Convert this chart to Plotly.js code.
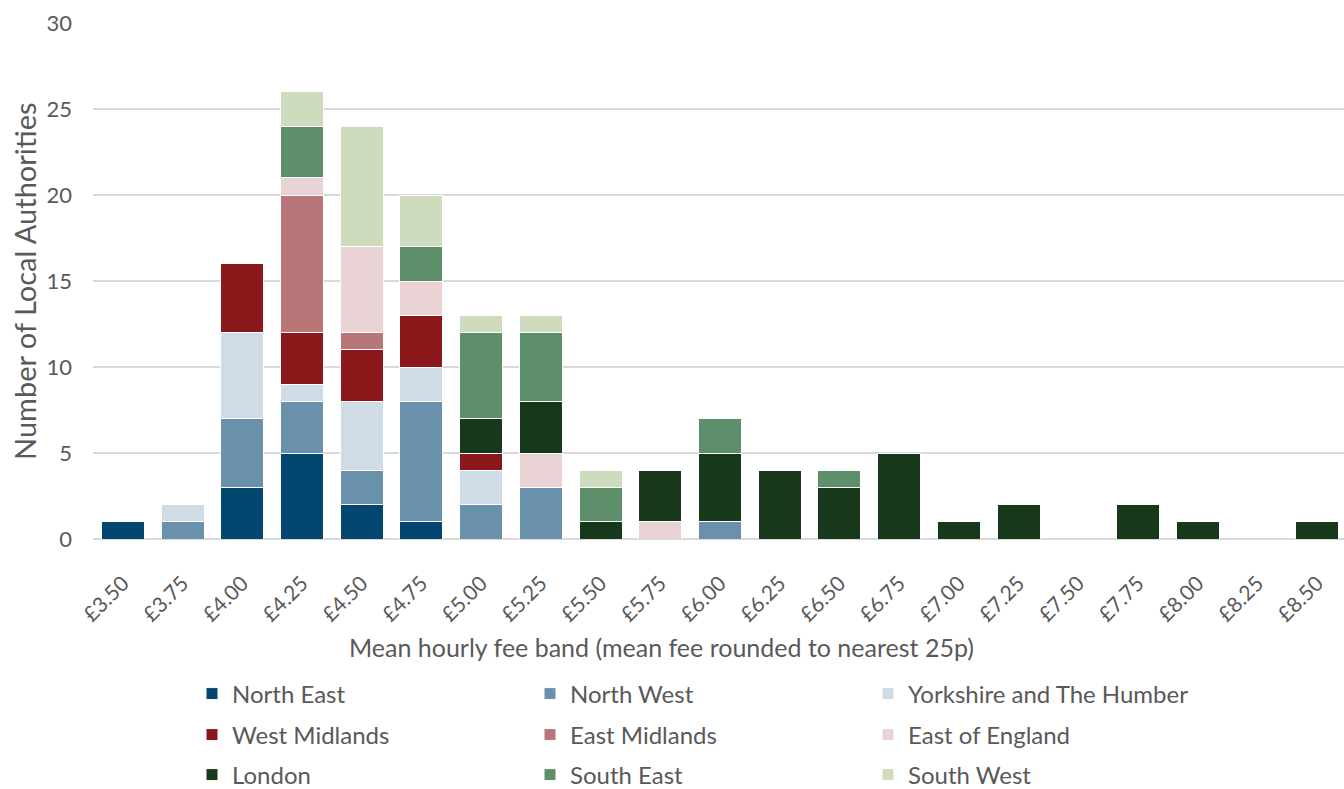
<!DOCTYPE html>
<html>
<head>
<meta charset="utf-8">
<script src="https://cdn.plot.ly/plotly-3.0.1.min.js"></script>
<style>html,body{margin:0;padding:0;background:#fff;}#chart{width:1344px;height:789px;}</style>
</head>
<body>
<div id="chart"></div>
<script>
const categories = ['£3.50','£3.75','£4.00','£4.25','£4.50','£4.75','£5.00','£5.25','£5.50','£5.75','£6.00','£6.25','£6.50','£6.75','£7.00','£7.25','£7.50','£7.75','£8.00','£8.25','£8.50'];

const northEast   = [1,0,3,5,2,1,0,0,0,0,0,0,0,0,0,0,0,0,0,0,0];
const northWest   = [0,1,4,3,2,7,2,3,0,0,1,0,0,0,0,0,0,0,0,0,0];
const yorkshire   = [0,1,5,1,4,2,2,0,0,0,0,0,0,0,0,0,0,0,0,0,0];
const westMid     = [0,0,4,3,3,3,1,0,0,0,0,0,0,0,0,0,0,0,0,0,0];
const eastMid     = [0,0,0,8,1,0,0,0,0,0,0,0,0,0,0,0,0,0,0,0,0];
const eastEngland = [0,0,0,1,5,2,0,2,0,1,0,0,0,0,0,0,0,0,0,0,0];
const london      = [0,0,0,0,0,0,2,3,1,3,4,4,3,5,1,2,0,2,1,0,1];
const southEast   = [0,0,0,3,0,2,5,4,2,0,2,0,1,0,0,0,0,0,0,0,0];
const southWest   = [0,0,0,2,7,3,1,1,1,0,0,0,0,0,0,0,0,0,0,0,0];

const seriesNames = ['North East','North West','Yorkshire and The Humber','West Midlands','East Midlands','East of England','London','South East','South West'];
const seriesData = [northEast,northWest,yorkshire,westMid,eastMid,eastEngland,london,southEast,southWest];
const seriesColors = ['#03466F','#6991AB','#CFDCE5','#8A1719','#B87679','#E9D3D4','#17381B','#5E8F6B','#CFDBBD'];
const legendRows = ['legend','legend','legend','legend2','legend2','legend2','legend3','legend3','legend3'];

const xTitle = 'Mean hourly fee band (mean fee rounded to nearest 25p)';
const yTitle = 'Number of Local Authorities';

const FONT = 'Lato, "Open Sans", sans-serif';
const TXT = '#595959';

// plot area in pixels: x 93..1344, y 23..539
const PX = x => (x - 93) / 1251;
const PY = y => (539 - y) / 516;

const traces = seriesNames.map((n,i)=>({
  type:'bar', name:n, x:categories, y:seriesData[i].map(v=>v||null),
  marker:{color:seriesColors[i], line:{color:'#ffffff', width:1}},
  legend:legendRows[i], hoverinfo:'skip'
}));

function leg(yPx){
  return {orientation:'h', xref:'container', yref:'container', x:192/1344, y:1-yPx/789,
    xanchor:'left', yanchor:'middle', entrywidth:293, entrywidthmode:'pixels', maxheight:200,
    font:{family:FONT,size:24,color:TXT}, bgcolor:'rgba(0,0,0,0)', traceorder:'normal'};
}

const layout = {
  width:1344, height:789, paper_bgcolor:'#fff', plot_bgcolor:'#fff',
  margin:{l:93,r:0,t:23,b:250},
  barmode:'stack', bargap:0.28,
  font:{family:FONT,color:TXT},
  xaxis:{type:'category', range:[-0.5,20.45], tickangle:-45, tickfont:{family:FONT,size:21,color:TXT},
    showgrid:false, showline:false, ticks:'', fixedrange:true, ticklabelstandoff:27},
  yaxis:{range:[0,30], dtick:5, tickfont:{family:FONT,size:22,color:TXT}, gridcolor:'#d9d9d9', gridwidth:1.3,
    zeroline:true, zerolinecolor:'#d9d9d9', zerolinewidth:1.5, ticks:'', ticklabelstandoff:20},
  annotations:[
    {text:xTitle, xref:'paper', yref:'paper', x:PX(661), y:PY(647), xanchor:'center', yanchor:'middle',
     showarrow:false, font:{family:FONT,size:25,color:TXT}},
    {text:yTitle, xref:'paper', yref:'paper', x:PX(24), y:PY(281), xanchor:'center', yanchor:'middle',
     textangle:-90, showarrow:false, font:{family:FONT,size:29,color:TXT}}
  ],
  legend:leg(694), legend2:leg(735), legend3:leg(775),
  showlegend:true
};

Plotly.newPlot('chart', traces, layout, {staticPlot:true, displayModeBar:false});
</script>
</body>
</html>
